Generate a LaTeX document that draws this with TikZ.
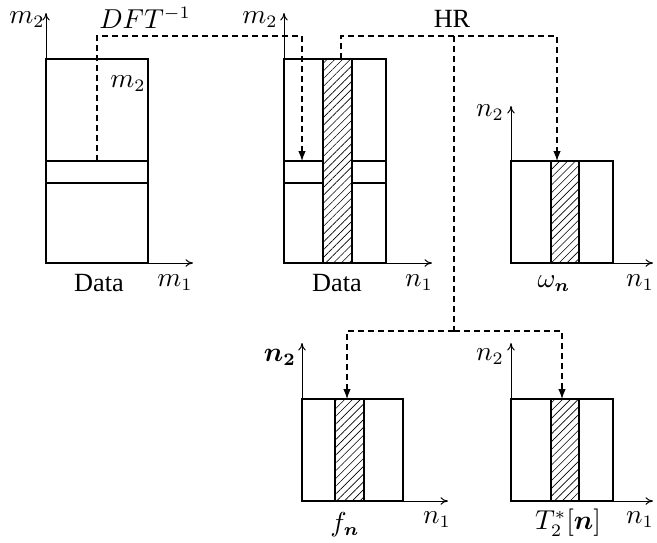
\documentclass[tikz,border=0pt]{standalone}
\usepackage{fontspec}
\setmainfont{Liberation Serif}
\usepackage{amsmath, amssymb}
\usepackage{tikz}
\usetikzlibrary{arrows.meta, patterns.meta, calc}

\begin{document}
\begin{tikzpicture}[x=0.4pt, y=-0.4pt,
    font=\fontsize{10.5}{12}\selectfont,
    box/.style={line width=0.45pt},
    hatch/.style={line width=0.45pt, pattern={Lines[angle=45, distance=2.2pt, line width=0.25pt]}},
    axis/.style={line width=0.4pt, -{To[length=3pt, width=3pt]}},
    flow/.style={line width=0.45pt, dash pattern=on 2.4pt off 1.6pt, -{Latex[length=4pt, width=3pt]}},
    route/.style={line width=0.45pt, dash pattern=on 2.4pt off 1.6pt}]
  \useasboundingbox (0,0) rectangle (657,542);

  % Panel corners
  \coordinate (oA) at (46,263);
  \coordinate (oB) at (284,263);
  \coordinate (oC) at (511,263);
  \coordinate (oD) at (302,501);
  \coordinate (oE) at (511,501);

  % Data in (m1,m2)
  \draw[box] (oA) rectangle ++(102,-204);
  \draw[box] ($(oA)+(0,-102)$) -- ++(102,0);
  \draw[box] ($(oA)+(0,-80)$) -- ++(102,0);
  \draw[axis] (oA) -- ++(0,-250);
  \draw[axis] (oA) -- ++(147,0);
  \node (lblAy) at (27,20) {$m_2$};
  \node (lblAx) at (175,283) {$m_1$};
  \node (lblAd) at (99,283) {Data};
  \node (lblAm) at (128,84) {$m_2$};
  \coordinate (dftsrc) at ($(oA)+(51,-102)$);

  % Data in (n1,m2)
  \draw[box] (oB) rectangle ++(102,-204);
  \draw[box] ($(oB)+(0,-102)$) -- ++(39,0);
  \draw[box] ($(oB)+(0,-80)$) -- ++(39,0);
  \draw[box] ($(oB)+(68,-102)$) -- ++(34,0);
  \draw[box] ($(oB)+(68,-80)$) -- ++(34,0);
  \draw[hatch] ($(oB)+(39,0)$) rectangle ++(29,-204);
  \draw[axis] (oB) -- ++(0,-250);
  \draw[axis] (oB) -- ++(148,0);
  \node (lblBy) at (260,20) {$m_2$};
  \node (lblBx) at (419,283) {$n_1$};
  \node (lblBd) at (337,283) {Data};
  \coordinate (dfttgt) at ($(oB)+(18,-102)$);
  \coordinate (hrsrc) at ($(oB)+(57,-204)$);

  % omega_n
  \draw[box] (oC) rectangle ++(102,-102);
  \draw[hatch] ($(oC)+(40,0)$) rectangle ++(28,-102);
  \draw[axis] (oC) -- ++(0,-157);
  \draw[axis] (oC) -- ++(142,0);
  \node (lblCy) at (490,113) {$n_2$};
  \node (lblCx) at (640,283) {$n_1$};
  \node (lblCw) at (554,284) {$\omega_{\boldsymbol{n}}$};
  \coordinate (omtgt) at ($(oC)+(46,-102)$);

  % f_n
  \draw[box] (oD) rectangle ++(101,-102);
  \draw[hatch] ($(oD)+(33,0)$) rectangle ++(29,-102);
  \draw[axis] (oD) -- ++(0,-158);
  \draw[axis] (oD) -- ++(146,0);
  \node (lblDy) at (280,357) {$\boldsymbol{n_2}$};
  \node (lblDx) at (437,520) {$n_1$};
  \node (lblDf) at (345,525) {$f_{\boldsymbol{n}}$};
  \coordinate (ftgt) at ($(oD)+(45,-102)$);

  % T2*[n]
  \draw[box] (oE) rectangle ++(102,-102);
  \draw[hatch] ($(oE)+(40,0)$) rectangle ++(28,-102);
  \draw[axis] (oE) -- ++(0,-158);
  \draw[axis] (oE) -- ++(142,0);
  \node (lblEy) at (490,357) {$n_2$};
  \node (lblEx) at (640,520) {$n_1$};
  \node (lblEt) at (568,523) {$T_2^*[\boldsymbol{n}]$};
  \coordinate (ttgt) at ($(oE)+(51,-102)$);

  % DFT^-1 step
  \draw[flow] (dftsrc) -- ++(0,-125) -| (dfttgt);
  \node (dft) at (145,18) {$DFT^{-1}$};

  % HR step
  \draw[flow] (hrsrc) -- ++(0,-23) -| (omtgt);
  \coordinate (hrtop) at (454,36);
  \coordinate (hrsplit) at (454,331);
  \draw[route] (hrtop) -- (hrsplit);
  \draw[flow] (hrsplit) -| (ftgt);
  \draw[flow] (hrsplit) -| (ttgt);
  \node (hr) at (452,19) {HR};
\end{tikzpicture}
\end{document}
